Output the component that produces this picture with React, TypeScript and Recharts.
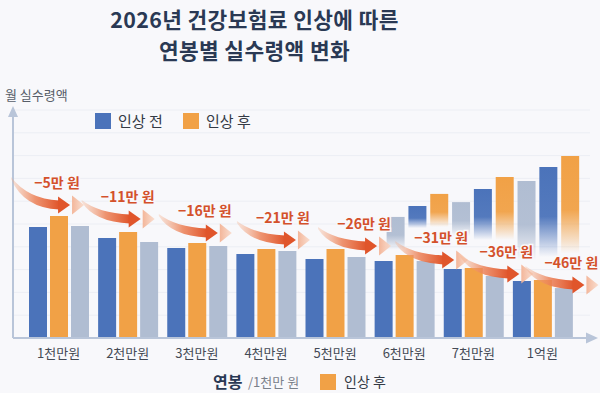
import React from "react";
import { BarChart, ComposedChart, Bar, Line, XAxis, YAxis, CartesianGrid, Cell, Customized } from "recharts";

// 연봉 구간
const categories = ["1천만원", "2천만원", "3천만원", "4천만원", "5천만원", "6천만원", "7천만원", "1억원"];
// 월 실수령액 (상대값)
const beforeRaise = [48.7, 43.9, 39.5, 36.8, 34.6, 33.8, 30.3, 25.0];
const afterRaise = [53.5, 46.5, 41.7, 39.0, 39.0, 36.4, 30.7, 25.4];
const compareVals = [49.1, 42.1, 40.4, 38.2, 35.5, 33.8, 27.2, 21.9];
// 감소액 표시
const dropLabels = ["−5만 원", "−11만 원", "−16만 원", "−21만 원", "−26만 원", "−31만 원", "−36만 원", "−46만 원"];
const dropLevel = [68, 61.8, 55.7, 52.6, 50, 43.9, 37.7, 32.9];

// 오른쪽 뒤편의 흐린 막대
const bgKinds = ["gray", "blue", "orange", "gray", "blue", "orange", "gray", "blue", "orange"];
const bgTop = [53.1, 57.9, 63.2, 59.6, 65.4, 70.6, 68.9, 75.0, 79.8];
const bgBottom = [38.6, 48.2, 48.7, 44.7, 43.0, 43.0, 34.0, 35.5, 37.0];

const yTicks = [0, 10, 20, 30, 40, 50, 60, 70, 80, 90, 100];

const BLUE = "#4b73ba";
const ORANGE = "#f1a146";
const GRAY = "#b0bdd2";
const BG = "#f8f8fb";
const FONT = '"Noto Sans CJK KR", "Noto Sans", sans-serif';

const rows = categories.map((cat, i) => ({
  cat,
  before: beforeRaise[i],
  after: afterRaise[i],
  compare: compareVals[i],
  drop: dropLevel[i],
  label: dropLabels[i],
}));

const bgRows = bgKinds.map((kind, i) => ({ k: i, kind, range: [bgBottom[i], bgTop[i]] }));

// label x nudges relative to the category centre
const labelShift = [-1.5, 0, 8, 17, 29, 37, 33, 29];

function DropArrow(props: any) {
  const { cx, cy, index, payload } = props;
  if (cx == null || cy == null) return <g key={"d" + index} />;
  const lx = cx + labelShift[index];
  const ly = cy;
  const x0 = lx - 46;
  const y0 = ly + (index === 0 ? -6 : 3);
  const xt = lx + 13;
  const yt = ly + 22;
  const xb = xt - 11;
  const qx = x0 + (xb - x0) * 0.35;
  const qy = yt - 2;
  const body = `M${x0},${y0} Q${qx},${qy - 4} ${xb},${yt - 4.5} L${xb},${yt + 4.5} Q${qx - 4},${qy + 5} ${x0},${y0 + 2} Z`;
  const head = `M${xb - 1},${yt - 8.5} L${xt},${yt} L${xb - 1},${yt + 8.5} Z`;
  const chev = `M${xt + 2},${yt - 9.5} L${xt + 14},${yt} L${xt + 2},${yt + 9.5} Z`;
  return (
    <g key={"d" + index}>
      <path d={body} fill="url(#arrowBody)" />
      <path d={head} fill="#e0552b" />
      <path d={chev} fill="url(#chevron)" />
      <text
        x={lx}
        y={ly + 5}
        textAnchor="middle"
        fontSize={14}
        fontWeight={700}
        fill="#d4512b"
        stroke={BG}
        strokeWidth={3}
        paintOrder="stroke"
        style={{ fontFamily: FONT }}
      >
        {payload.label}
      </text>
    </g>
  );
}

function AxisArrows() {
  return (
    <g>
      <polygon points="13,106 8,117 18,117" fill="#b9c5d9" />
      <polygon points="598,338 586,332.5 586,343.5" fill="#b9c5d9" />
    </g>
  );
}

const fadeStops = (id: string, color: string) => (
  <linearGradient id={id} x1="0" y1="0" x2="0" y2="1">
    <stop offset="0" stopColor={color} stopOpacity={1} />
    <stop offset="0.55" stopColor={color} stopOpacity={0.95} />
    <stop offset="1" stopColor={color} stopOpacity={0} />
  </linearGradient>
);

const bgFill: Record<string, string> = { blue: "url(#fadeBlue)", orange: "url(#fadeOrange)", gray: "url(#fadeGray)" };

export default function App() {
  return (
    <div style={{ position: "fixed", left: 0, top: 0, width: 600, height: 393, background: BG, fontFamily: FONT, overflow: "hidden" }}>
      <div style={{ position: "absolute", left: 0, width: 509, top: 3, textAlign: "center", fontSize: 21.4, fontWeight: 700, color: "#2a3954", letterSpacing: 0.4, lineHeight: "31px" }}>
        2026년 건강보험료 인상에 따른
        <br />
        연봉별 실수령액 변화
      </div>
      <div style={{ position: "absolute", left: 5, top: 86, fontSize: 13, color: "#575e69", lineHeight: "18px" }}>월 실수령액</div>

      <div style={{ position: "absolute", left: 0, top: 0 }}>
        <BarChart width={600} height={393} data={bgRows} margin={{ top: 110, right: 10, bottom: 55, left: 13 }} barSize={18}>
          <defs>
            {fadeStops("fadeBlue", BLUE)}
            {fadeStops("fadeOrange", ORANGE)}
            {fadeStops("fadeGray", GRAY)}
          </defs>
          <CartesianGrid vertical={false} stroke="#eceef4" />
          <XAxis dataKey="k" type="category" hide padding={{ left: 371.6, right: 9 }} />
          <YAxis hide domain={[0, 100]} ticks={yTicks} interval={0} />
          <Bar dataKey="range" isAnimationActive={false}>
            {bgRows.map((r) => (
              <Cell key={r.k} fill={bgFill[r.kind]} />
            ))}
          </Bar>
        </BarChart>
      </div>

      <div style={{ position: "absolute", left: 0, top: 0 }}>
        <ComposedChart width={600} height={393} data={rows} margin={{ top: 110, right: 10, bottom: 25, left: 12 }} barGap={3}>
          <defs>
            <linearGradient id="arrowBody" x1="0" y1="0" x2="1" y2="0">
              <stop offset="0" stopColor="#f4b08c" stopOpacity={0.3} />
              <stop offset="0.5" stopColor="#ec8157" stopOpacity={0.85} />
              <stop offset="1" stopColor="#e0552b" stopOpacity={1} />
            </linearGradient>
            <linearGradient id="chevron" x1="0" y1="0" x2="1" y2="0">
              <stop offset="0" stopColor="#f3b294" stopOpacity={0.95} />
              <stop offset="1" stopColor="#f9d6c4" stopOpacity={0.8} />
            </linearGradient>
          </defs>
          <XAxis
            dataKey="cat"
            height={30}
            padding={{ left: 11, right: 13 }}
            axisLine={{ stroke: "#b9c5d9", strokeWidth: 2 }}
            tickLine={false}
            tickMargin={5}
            tick={{ fontSize: 13, fill: "#444a55" }}
            interval={0}
          />
          <YAxis width={1} domain={[0, 100]} ticks={yTicks} tick={false} tickLine={false} axisLine={{ stroke: "#b9c5d9", strokeWidth: 2 }} />
          <Bar dataKey="before" fill={BLUE} barSize={18} isAnimationActive={false} />
          <Bar dataKey="after" fill={ORANGE} barSize={18} isAnimationActive={false} />
          <Bar dataKey="compare" fill={GRAY} barSize={18} isAnimationActive={false} />
          <Line dataKey="drop" stroke="none" dot={DropArrow} activeDot={false} legendType="none" isAnimationActive={false} />
          <Customized component={AxisArrows} />
        </ComposedChart>
      </div>

      {/* top legend */}
      <div style={{ position: "absolute", left: 95, top: 113, width: 16, height: 16, background: BLUE }} />
      <div style={{ position: "absolute", left: 118, top: 110, fontSize: 15, color: "#333a45", lineHeight: "22px" }}>인상 전</div>
      <div style={{ position: "absolute", left: 183, top: 113, width: 16, height: 16, background: ORANGE }} />
      <div style={{ position: "absolute", left: 206, top: 110, fontSize: 15, color: "#333a45", lineHeight: "22px" }}>인상 후</div>

      {/* bottom caption */}
      <div style={{ position: "absolute", left: 213, top: 371, fontSize: 16, fontWeight: 700, color: "#2a3954", lineHeight: "20px" }}>연봉</div>
      <div style={{ position: "absolute", left: 248, top: 373, fontSize: 13, color: "#7a808a", lineHeight: "18px" }}>/1천만 원</div>
      <div style={{ position: "absolute", left: 320, top: 374, width: 16, height: 16, background: ORANGE }} />
      <div style={{ position: "absolute", left: 344, top: 371, fontSize: 14, color: "#333a45", lineHeight: "20px" }}>인상 후</div>
    </div>
  );
}
